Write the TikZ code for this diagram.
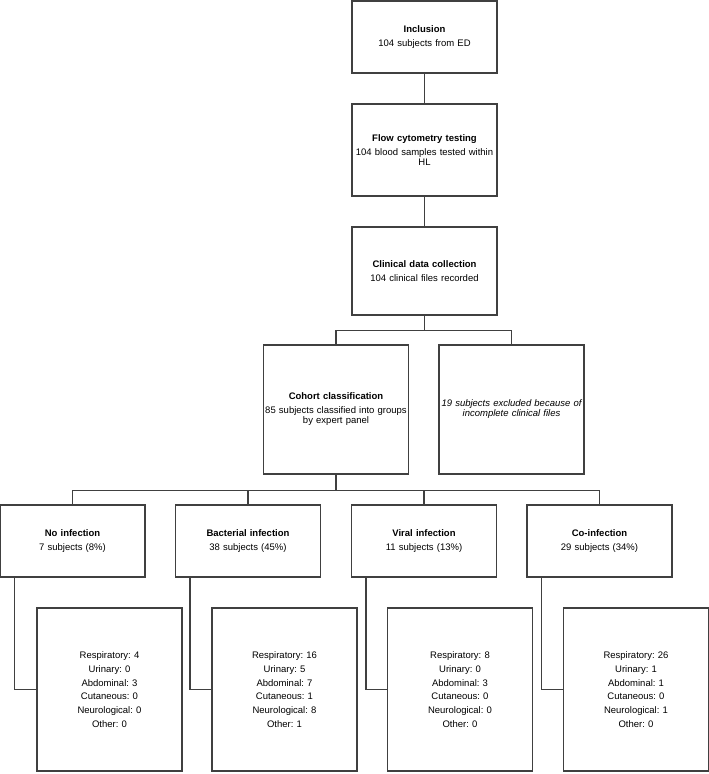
\documentclass[tikz,border=0pt]{standalone}
\usepackage{fontspec}
\setmainfont{Liberation Sans}
\usetikzlibrary{positioning}
\frenchspacing
\begin{document}
\begin{tikzpicture}[x=1pt,y=1pt]
	% Styles
	\tikzstyle{trait}=[-,line width=1.5pt,black!75]
	\tikzstyle{boite}=[draw=black!75,line width=1.5pt,rectangle,inner sep=1pt,text width=143pt,align=center,font=\fontsize{9.5}{10}\selectfont]
	\tikzstyle{liste}=[boite,minimum height=163pt,font=\fontsize{9.5}{13.7}\selectfont]
	% Dimensions (ordonnees mesurees depuis le haut)
	\def\Haut{774}
	\def\ColCentre{424.5}
	\def\NiveauA{\Haut-37}
	\def\NiveauB{\Haut-150}
	\def\NiveauC{\Haut-271}
	\def\NiveauD{\Haut-409.5}
	\def\NiveauE{\Haut-541}
	\def\NiveauF{\Haut-689.5}
	\useasboundingbox (0,0) rectangle (709,\Haut);
	% Noeuds
	\node[boite,minimum height=72pt] (Inc) at ({\ColCentre},{\NiveauA}) {\textbf{Inclusion}\\[4pt]104 subjects from ED};
	\node[boite,minimum height=92pt] (Cyto) at ({\ColCentre},{\NiveauB}) {\textbf{Flow cytometry testing}\\[4pt]104 blood samples tested within\\HL};
	\node[boite,minimum height=88pt] (Clin) at ({\ColCentre},{\NiveauC}) {\textbf{Clinical data collection}\\[4pt]104 clinical files recorded};
	\node[boite,minimum height=129pt] (Cohorte) at ({336},{\NiveauD}) {\textbf{Cohort classification}\\[4pt]85 subjects classified into groups\\by expert panel};
	\node[boite,minimum height=129pt,font=\fontsize{9.5}{10}\selectfont\itshape] (Exclus) at ({511.5},{\NiveauD}) {19 subjects excluded because of\\incomplete clinical files};
	%
	\node[boite,minimum height=72pt] (Ga) at ({72.5},{\NiveauE}) {\textbf{No infection}\\[4pt]7 subjects (8\%)};
	\node[boite,minimum height=72pt] (Gb) at ({248},{\NiveauE}) {\textbf{Bacterial infection}\\[4pt]38 subjects (45\%)};
	\node[boite,minimum height=72pt] (Gc) at ({424},{\NiveauE}) {\textbf{Viral infection}\\[4pt]11 subjects (13\%)};
	\node[boite,minimum height=72pt] (Gd) at ({599.5},{\NiveauE}) {\textbf{Co-infection}\\[4pt]29 subjects (34\%)};
	%
	\node[liste] (La) at ({109.5},{\NiveauF}) {Respiratory: 4\\Urinary: 0\\Abdominal: 3\\Cutaneous: 0\\Neurological: 0\\Other: 0};
	\node[liste] (Lb) at ({284.5},{\NiveauF}) {Respiratory: 16\\Urinary: 5\\Abdominal: 7\\Cutaneous: 1\\Neurological: 8\\Other: 1};
	\node[liste] (Lc) at ({460},{\NiveauF}) {Respiratory: 8\\Urinary: 0\\Abdominal: 3\\Cutaneous: 0\\Neurological: 0\\Other: 0};
	\node[liste] (Ld) at ({636},{\NiveauF}) {Respiratory: 26\\Urinary: 1\\Abdominal: 1\\Cutaneous: 0\\Neurological: 1\\Other: 0};
	% Embranchements
	\coordinate[below=15pt of Clin.south] (S1);
	\coordinate[below=16pt of Cohorte.south] (S2);
	% Arcs
	\draw[trait] (Inc.south)--(Cyto.north);
	\draw[trait] (Cyto.south)--(Clin.north);
	\draw[trait] (Clin.south)--(S1);
	\draw[trait] (S1) -| (Cohorte.north);
	\draw[trait] (S1) -| (Exclus.north);
	\draw[trait] (Cohorte.south)--(S2);
	\foreach \g in {Ga,Gb,Gc,Gd}
		\draw[trait] (S2) -| (\g.north);
	\foreach \g/\l in {Ga/La,Gb/Lb,Gc/Lc,Gd/Ld}
		\draw[trait] ([xshift=15pt]\g.south west) |- (\l.west);
\end{tikzpicture}
\end{document}
